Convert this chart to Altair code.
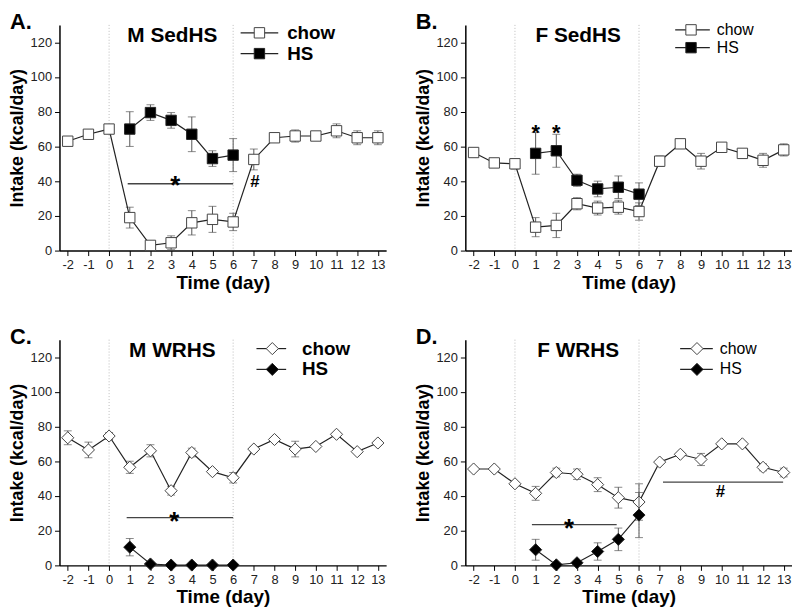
import altair as alt
import pandas as pd

DAYS = list(range(-2, 14))
HS_DAYS = [1, 2, 3, 4, 5, 6]
X_TICKS = list(range(-2, 14))
Y_TICKS = [0, 20, 40, 60, 80, 100, 120]

A_CHOW = [63, 67, 70, 19, 3, 4.5, 16, 18, 16.5, 52.5, 65, 66, 66, 69, 65, 65]
A_CHOW_ERR = [0.8, 1, 1, 6, 1.5, 4, 7, 7.5, 5, 6, 1.5, 3.5, 1, 4, 4, 4]
A_HS = [70, 79.5, 75, 67, 53, 55]
A_HS_ERR = [10, 4.5, 4.5, 10, 4.5, 9.5]

B_CHOW = [56.5, 50.5, 50, 13.5, 14.5, 27, 24.5, 25, 22.5, 51.5, 61.5, 51.5, 59.5, 56, 52, 58]
B_CHOW_ERR = [1, 1, 3, 5.5, 7, 3.5, 4, 4, 5, 3, 2, 4.5, 1.5, 1.5, 4, 3.5]
B_HS = [56, 57.5, 40.5, 35.5, 36.5, 32.5]
B_HS_ERR = [12, 9.5, 3.5, 4.5, 6.5, 6.5]

C_CHOW = [73.5, 66.5, 74.5, 56.5, 66, 43, 65, 54, 50.5, 67, 72.5, 67, 68.5, 75.5, 65.5, 70.5]
C_CHOW_ERR = [4, 4.5, 2, 3.5, 3.5, 2.5, 2.5, 1, 3, 1.5, 1, 4.5, 1, 1, 1, 1]
C_HS = [10.5, 0.8, 0.2, 0.2, 0.2, 0.2]
C_HS_ERR = [5, 0.5, 0, 0, 0, 0]

D_CHOW = [55.5, 55.5, 47, 41.5, 53.5, 52.5, 46.5, 39, 36.5, 59.5, 64, 61, 70, 70, 56.5, 53.5]
D_CHOW_ERR = [1, 1, 1, 4, 2.5, 3, 4, 6, 10.5, 1, 1, 3.5, 1, 1, 2, 2.5]
D_HS = [9, 0.3, 1.5, 8, 15, 29]
D_HS_ERR = [6, 0.5, 1, 5, 6.5, 13]

# significance bars: (x1, x2, y)
A_SIG = [(0.9, 6, 38.5)]
A_MARKS = [("*", 3.2, 41.5, 26), ("#", 7.05, 39.5, 17)]
B_SIG = []
B_MARKS = [("*", 1, 71.5, 22), ("*", 2, 71.5, 22)]
C_SIG = [(0.85, 6, 27.5)]
C_MARKS = [("*", 3.15, 29.5, 26)]
D_SIG = [(0.82, 4.92, 23.5), (7.16, 12.97, 48)]
D_MARKS = [("*", 2.62, 25.5, 26), ("#", 9.94, 42, 17)]

W, H = 330, 228
FONT = "Liberation Sans"
XDOM = [-2.4, 13.4]
YDOM = [0, 130]


def xenc(field):
    return alt.X(field, type="quantitative",
                 scale=alt.Scale(domain=XDOM, nice=False, zero=False),
                 axis=alt.Axis(values=X_TICKS, title="Time (day)", grid=False,
                               labelExpr="'' + datum.value"))


def yenc(field):
    return alt.Y(field, type="quantitative",
                 scale=alt.Scale(domain=YDOM, nice=False),
                 axis=alt.Axis(values=Y_TICKS, title="Intake (kcal/day)", grid=False))


def series_layers(days, vals, errs, shape, size, filled):
    df = pd.DataFrame({"day": days, "val": vals,
                       "lo": [v - e for v, e in zip(vals, errs)],
                       "hi": [v + e for v, e in zip(vals, errs)]})
    base = alt.Chart(df)
    rule = base.mark_rule(color="#555", strokeWidth=1).encode(x=xenc("day"), y=yenc("lo"), y2="hi")
    cap_lo = base.mark_tick(color="#555", orient="horizontal", size=8, thickness=1).encode(x=xenc("day"), y=yenc("lo"))
    cap_hi = base.mark_tick(color="#555", orient="horizontal", size=8, thickness=1).encode(x=xenc("day"), y=yenc("hi"))
    line = base.mark_line(color="#222", strokeWidth=1.2).encode(x=xenc("day"), y=yenc("val"))
    pts = base.mark_point(shape=shape, size=size, filled=True,
                          fill="black" if filled else "white",
                          stroke="#222" if filled else "#444", strokeWidth=1, opacity=1).encode(
        x=xenc("day"), y=yenc("val"))
    return [rule, cap_lo, cap_hi, line, pts]


def panel(label, title, chow, chow_err, hs, hs_err, shape, size, sig, marks, leg, leg_bold):
    one = pd.DataFrame({"k": [0]})
    layers = []
    vr = alt.Chart(pd.DataFrame({"day": [0, 6]})).mark_rule(
        color="#bbb", strokeDash=[1, 2], strokeWidth=1).encode(x=xenc("day"))
    layers.append(vr)
    layers += series_layers(DAYS, chow, chow_err, shape, size, False)
    layers += series_layers(HS_DAYS, hs, hs_err, shape, size, True)
    if sig:
        sdf = pd.DataFrame({"x1": [s[0] for s in sig], "x2": [s[1] for s in sig], "y": [s[2] for s in sig]})
        layers.append(alt.Chart(sdf).mark_rule(color="#444", strokeWidth=1.3).encode(
            x=xenc("x1"), x2="x2", y=yenc("y")))
    for txt, mx, my, fs in marks:
        mdf = pd.DataFrame({"x": [mx], "y": [my], "t": [txt]})
        layers.append(alt.Chart(mdf).mark_text(font=FONT, fontSize=fs, fontWeight="bold",
                                               baseline="middle", align="center", color="black",
                                               dy=fs * 0.3 if txt == "*" else 0).encode(
            x=xenc("x"), y=yenc("y"), text="t"))
    # panel title
    layers.append(alt.Chart(one).mark_text(font=FONT, fontSize=21, fontWeight="bold",
                                           align="center", baseline="middle", color="black").encode(
        x=alt.value(114), y=alt.value(11), text=alt.value(title)))
    # panel letter
    layers.append(alt.Chart(one).mark_text(font=FONT, fontSize=22, fontWeight="bold",
                                           align="left", baseline="middle", color="black").encode(
        x=alt.value(-50), y=alt.value(-3), text=alt.value(label)))
    # legend
    lx1, lx2, lsym, ltx, ly1, ly2 = leg
    for yy, name, filled in [(ly1, "chow", False), (ly2, "HS", True)]:
        layers.append(alt.Chart(one).mark_rule(color="#222", strokeWidth=1.2).encode(
            x=alt.value(lx1), x2=alt.value(lx2), y=alt.value(yy)))
        layers.append(alt.Chart(one).mark_point(shape=shape, size=size, filled=True,
                                                fill="black" if filled else "white",
                                                stroke="#222" if filled else "#444",
                                                strokeWidth=1, opacity=1).encode(
            x=alt.value(lsym), y=alt.value(yy)))
        layers.append(alt.Chart(one).mark_text(font=FONT, fontSize=19 if leg_bold else 16,
                                               fontWeight="bold" if leg_bold else "normal",
                                               align="left", baseline="middle", color="black").encode(
            x=alt.value(ltx), y=alt.value(yy), text=alt.value(name)))
    return alt.layer(*layers).properties(width=W, height=H)


pA = panel("A.", "M SedHS", A_CHOW, A_CHOW_ERR, A_HS, A_HS_ERR, "square", 110, A_SIG, A_MARKS,
           (183, 221, 202, 230, 8, 29), True)
pB = panel("B.", "F SedHS", B_CHOW, B_CHOW_ERR, B_HS, B_HS_ERR, "square", 110, B_SIG, B_MARKS,
           (212, 247, 228, 254, 5, 23), False)
pC = panel("C.", "M WRHS", C_CHOW, C_CHOW_ERR, C_HS, C_HS_ERR, "diamond", 150, C_SIG, C_MARKS,
           (199, 229, 215, 245, 9, 30), True)
pD = panel("D.", "F WRHS", D_CHOW, D_CHOW_ERR, D_HS, D_HS_ERR, "diamond", 150, D_SIG, D_MARKS,
           (217, 250, 234, 257, 9, 30), False)

chart = alt.vconcat(
    alt.hconcat(pA, pB, spacing=28),
    alt.hconcat(pC, pD, spacing=28),
    spacing=34,
).properties(padding={"left": 0, "top": 0, "right": 0, "bottom": 0}).configure_view(
    stroke=None
).configure_axis(
    labelFont=FONT, titleFont=FONT, labelFontSize=13, labelColor="#222",
    titleFontSize=19, titleFontWeight="bold", titleColor="black",
    domainColor="black", domainWidth=1.5, tickColor="black", tickSize=5, tickWidth=1,
    labelPadding=3
).configure_axisY(titlePadding=4, titleFontSize=18).configure_axisX(titlePadding=2)

chart.save("out.html", embed_options={"renderer": "svg", "actions": False})
